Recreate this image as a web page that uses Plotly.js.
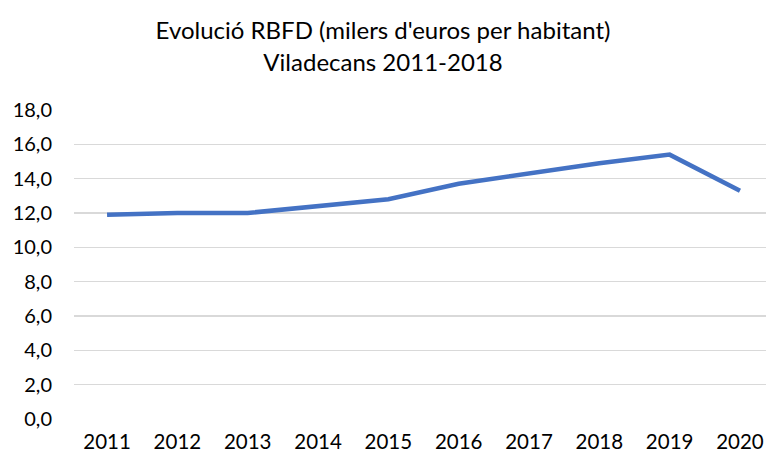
<!DOCTYPE html>
<html><head><meta charset="utf-8">
<script src="https://cdn.plot.ly/plotly-3.0.1.min.js"></script>
<style>html,body{margin:0;padding:0;background:#fff}</style>
</head><body><div id="chart" style="width:766px;height:457px"></div>
<script>
var years = ["2011","2012","2013","2014","2015","2016","2017","2018","2019","2020"];
var rbfd = [11.9, 12.0, 12.0, 12.4, 12.8, 13.7, 14.3, 14.9, 15.4, 13.3];
var yTicks = [0,2,4,6,8,10,12,14,16,18];
var titleText = "Evolució RBFD (milers d'euros per habitant)<br>Viladecans 2011-2018";

Plotly.newPlot("chart", [{
  x: years, y: rbfd, type: "scatter", mode: "lines",
  line: {color: "#4472C4", width: 4.5}, hoverinfo: "none"
}], {
  width: 766, height: 457,
  margin: {l: 74, r: 0, t: 110, b: 38},
  paper_bgcolor: "#fff", plot_bgcolor: "#fff",
  separators: ",.",
  font: {family: "Lato, 'Open Sans', sans-serif", color: "#000"},
  title: {text: titleText, x: 0.5, xanchor: "center", y: 0.914, yanchor: "top",
          font: {size: 24, color: "#000", family: "Lato, sans-serif"}},
  xaxis: {type: "category", range: [-0.47, 9.37], showgrid: false, zeroline: false,
          showline: false, ticks: "", tickfont: {size: 20.5}, ticklabelstandoff: 8},
  yaxis: {range: [0, 18], tickvals: yTicks, tickformat: ".1f", showgrid: true,
          gridcolor: "#d9d9d9", gridwidth: 1.2, zeroline: false, showline: false,
          ticks: "", tickfont: {size: 20}, ticklabelstandoff: 21},
  showlegend: false
}, {displayModeBar: false, staticPlot: true});
</script></body></html>
